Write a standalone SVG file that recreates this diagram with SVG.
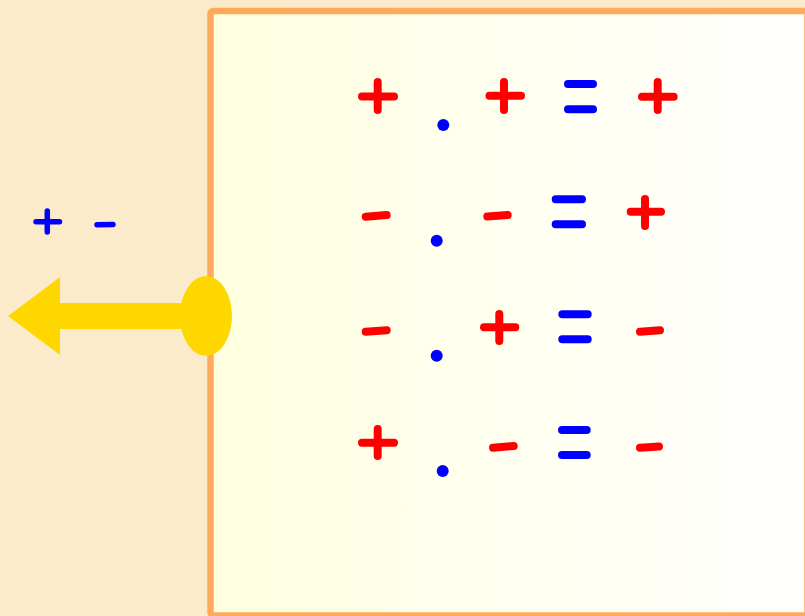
<svg xmlns="http://www.w3.org/2000/svg" width="805" height="616" viewBox="0 0 805 616">
  <defs>
    <linearGradient id="panelGrad" x1="0" y1="0" x2="1" y2="0">
      <stop offset="0" stop-color="#FFFFE0"/>
      <stop offset="1" stop-color="#FFFFFF"/>
    </linearGradient>
    <style>
      .red { stroke: #FF0000; stroke-width: 8; stroke-linecap: round; fill: none; }
      .blue { stroke: #0000FF; stroke-width: 8; stroke-linecap: round; fill: none; }
      .blueSmall { stroke: #0000FF; stroke-width: 5.5; stroke-linecap: round; fill: none; }
      .dot { fill: #0000FF; }
      .gold { fill: #FFD700; }
    </style>
  </defs>

  <rect x="0" y="0" width="805" height="616" fill="#FCEBCB"/>

  <g id="panel">
    <rect x="210.5" y="11" width="597" height="604.5" rx="3" fill="url(#panelGrad)" stroke="#FFAA5A" stroke-width="6.5"/>
  </g>

  <g id="legend">
    <path class="blueSmall" d="M36 221.7 H59.5 M47.3 211 V232"/>
    <path class="blueSmall" d="M97 224.8 L113 224.5"/>
  </g>

  <g id="arrow">
    <polygon class="gold" points="8,316 60,277 60,303 206,303 206,329 60,329 60,355"/>
    <ellipse class="gold" cx="206" cy="316" rx="26" ry="40"/>
  </g>

  <g id="row1">
    <path class="red" d="M362 96.5 H394 M377.7 82 V110"/>
    <circle class="dot" cx="443.3" cy="125" r="6"/>
    <path class="red" d="M489.5 95.7 H521 M504 82 V110"/>
    <path class="blue" d="M568 84 H593 M568 109.3 H593"/>
    <path class="red" d="M642 96.7 H673.7 M657.7 82 V110"/>
  </g>

  <g id="row2">
    <path class="red" d="M365.7 216.7 L386.7 215"/>
    <circle class="dot" cx="436.7" cy="240.7" r="6"/>
    <path class="red" d="M487.3 216.5 L507.7 215"/>
    <path class="blue" d="M555.7 199.3 H582 M555.7 224.3 H582"/>
    <path class="red" d="M630.7 211.7 H661 M645 199 V226"/>
  </g>

  <g id="row3">
    <path class="red" d="M365.7 331.7 L386.7 330.3"/>
    <circle class="dot" cx="436.7" cy="355.7" r="6"/>
    <path class="red" d="M484 327.3 H515.3 M499.3 314 V341"/>
    <path class="blue" d="M562.3 314.3 H587.7 M562.3 339.3 H587.7"/>
    <path class="red" d="M640 331.7 L660 330.3"/>
  </g>

  <g id="row4">
    <path class="red" d="M362 442.7 H394 M377.7 429 V456"/>
    <circle class="dot" cx="442.7" cy="471" r="6"/>
    <path class="red" d="M493 447.7 L513.7 446"/>
    <path class="blue" d="M562 430 H586.7 M562 455 H586.7"/>
    <path class="red" d="M640 447.7 L659 446.5"/>
  </g>
</svg>
